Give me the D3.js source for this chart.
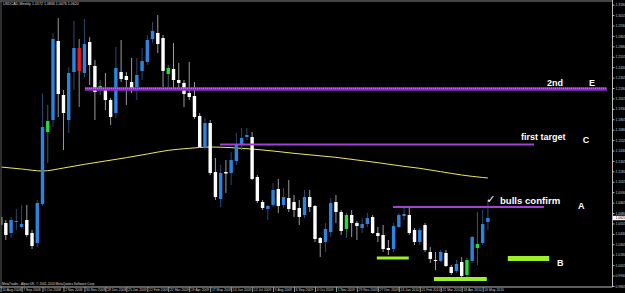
<!DOCTYPE html>
<meta charset="utf-8">
<html>
<head>
  <title>USDCAD Weekly</title>
  <style>
    body { margin: 0; background: #000; overflow: hidden; }
    svg { display: block; }
    text { font-family: "Liberation Sans", Arial, sans-serif; }
  </style>
</head>
<body>
  <script src="https://d3js.org/d3.v7.js"></script>
  <div id="chart"></div>
  <script>
    // weekly bars, 10 Aug 2008 .. 23 May 2010
    var open = [1.0632,1.0560,1.0440,1.0572,1.0512,1.0596,1.0440,1.0320,1.0788,1.1784,
      1.1796,1.2744,1.2096,1.1796,1.2372,1.2660,1.2360,1.2732,1.2444,1.2156,
      1.2180,1.2036,1.1880,1.2372,1.2324,1.2252,1.2192,1.2384,1.2492,1.2768,
      1.2840,1.2780,1.2348,1.2408,1.2276,1.2240,1.2120,1.2084,1.1844,1.1460,
      1.1760,1.1172,1.0848,1.1172,1.1160,1.1304,1.1496,1.1592,1.1592,1.1112,
      1.0812,1.0728,1.0776,1.0968,1.0776,1.0860,1.0812,1.0740,1.0656,1.0872,
      1.0764,1.0380,1.0332,1.0452,1.0812,1.0692,1.0488,1.0656,1.0560,1.0500,
      1.0548,1.0632,1.0440,1.0416,1.0260,1.0248,1.0512,1.0644,1.0656,1.0476,
      1.0332,1.0536,1.0212,1.0116,1.0104,1.0200,1.0032,0.9984,1.0092,0.9936,
      1.0104,1.0260,1.0320,1.0572];
    var high = [1.0668,1.0596,1.0632,1.0728,1.0776,1.0776,1.0476,1.0836,1.2120,1.1976,
      1.2840,1.3020,1.2156,1.2432,1.2984,1.2768,1.3008,1.2792,1.2516,1.2276,
      1.2360,1.2060,1.2672,1.2756,1.2372,1.2540,1.2540,1.2660,1.2816,1.2972,
      1.3056,1.2816,1.2456,1.2720,1.2480,1.2276,1.2492,1.2252,1.1880,1.1820,
      1.1796,1.1340,1.1256,1.1316,1.1412,1.1640,1.1700,1.1700,1.1652,1.1136,
      1.0836,1.0776,1.1040,1.1088,1.0980,1.1076,1.0896,1.0836,1.0956,1.0956,
      1.0776,1.0392,1.0560,1.0860,1.0896,1.0716,1.0680,1.0716,1.0584,1.0620,
      1.0680,1.0656,1.0512,1.0536,1.0356,1.0560,1.0680,1.0752,1.0752,1.0500,
      1.0500,1.0560,1.0272,1.0212,1.0236,1.0236,1.0056,1.0116,1.0152,1.0140,
      1.0404,1.0692,1.0716,1.0836];
    var low = [1.0500,1.0356,1.0380,1.0476,1.0500,1.0392,1.0248,1.0272,1.0764,1.1280,
      1.1712,1.1832,1.1436,1.1640,1.2156,1.1952,1.2312,1.2216,1.1796,1.2096,
      1.1916,1.1736,1.1820,1.2252,1.1976,1.2120,1.2036,1.2276,1.2456,1.2720,
      1.2600,1.2192,1.2192,1.2180,1.2180,1.1952,1.2036,1.1808,1.1460,1.1436,
      1.1136,1.0836,1.0752,1.0920,1.1016,1.1256,1.1436,1.1556,1.1076,1.0800,
      1.0716,1.0596,1.0752,1.0680,1.0740,1.0692,1.0632,1.0536,1.0620,1.0692,
      1.0332,1.0152,1.0212,1.0392,1.0560,1.0416,1.0380,1.0392,1.0356,1.0440,
      1.0512,1.0428,1.0332,1.0212,1.0176,1.0212,1.0500,1.0596,1.0416,1.0296,
      1.0296,1.0212,1.0080,0.9996,1.0092,1.0032,0.9936,0.9960,0.9912,0.9912,
      1.0080,1.0056,1.0296,1.0476];
    var close = [1.0536,1.0416,1.0596,1.0584,1.0548,1.0416,1.0284,1.0800,1.1712,1.1652,
      1.2768,1.2108,1.1880,1.2360,1.2660,1.2384,1.2708,1.2456,1.2132,1.2204,
      1.2036,1.1832,1.2420,1.2288,1.2276,1.2180,1.2336,1.2504,1.2756,1.2864,
      1.2708,1.2384,1.2420,1.2276,1.2240,1.2108,1.2072,1.1832,1.1472,1.1760,
      1.1160,1.0872,1.1160,1.1154,1.1316,1.1496,1.1580,1.1616,1.1088,1.0824,
      1.0740,1.0764,1.0956,1.0764,1.0872,1.0728,1.0716,1.0632,1.0872,1.0752,
      1.0368,1.0320,1.0488,1.0800,1.0692,1.0464,1.0656,1.0560,1.0524,1.0548,
      1.0620,1.0440,1.0404,1.0248,1.0236,1.0524,1.0656,1.0668,1.0440,1.0332,
      1.0476,1.0236,1.0128,1.0104,1.0212,1.0044,0.9960,1.0068,0.9924,1.0116,
      1.0392,1.0308,1.0548,1.0620];

    // bars painted by the indicator
    var greenBars = [9, 19, 32, 66, 89, 91];
    var redBars = [15];

    // moving average, read at every 4th bar
    var maIdx = [0,4,8,12,16,20,24,28,32,36,40,44,48,52,56,60,64,68,72,76,80,84,88,92,93];
    var maVal = [1.1232,1.1208,1.1184,1.1220,1.1264,1.1304,1.1344,1.1388,1.1432,1.1456,1.1472,1.1464,
      1.1448,1.1424,1.1396,1.1372,1.1348,1.1316,1.1284,1.1248,1.1216,1.1176,1.1136,1.1106,1.1100];

    var dateLabels = ["10 Aug 2008","7 Sep 2008","5 Oct 2008","2 Nov 2008","30 Nov 2008","28 Dec 2008",
      "25 Jan 2009","22 Feb 2009","22 Mar 2009","19 Apr 2009","17 May 2009","14 Jun 2009","12 Jul 2009",
      "9 Aug 2009","6 Sep 2009","4 Oct 2009","1 Nov 2009","29 Nov 2009","27 Dec 2009","24 Jan 2010",
      "21 Feb 2010","21 Mar 2010","18 Apr 2010","16 May 2010"];
    var dateIdx = [0,4,8,12,16,20,24,28,32,36,40,44,48,52,56,60,64,68,72,76,80,84,88,92];

    var priceTicks = [1.3180,1.3055,1.2930,1.2805,1.2680,1.2555,1.2430,1.2305,1.2180,1.2055,
      1.1930,1.1805,1.1680,1.1555,1.1430,1.1305,1.1180,1.1055,1.0930,1.0805,
      1.0680,1.0555,1.0430,1.0305,1.0180,1.0055,0.9930,0.9805];

    // trend lines (purple)
    var lineNames = ["E", "C", "A"];
    var linePrice = [1.2168, 1.1502, 1.0752];
    var lineFrom = [16.1, 41.9, 74.9];
    var lineTo = [115.7, 101.8, 103.7];

    // green support zones
    var zonePrice = [1.0140, 0.9888, 1.0134];
    var zoneFrom = [71.8, 82.7, 96.8];
    var zoneTo = [77.9, 92.8, 104.7];

    // text labels
    var noteText = ["2nd", "E", "first target", "C", "\u2713", "bulls confirm", "A", "B"];
    var noteIdx = [104.3, 112.3, 99.3, 111.1, 92.7, 95.3, 110.2, 106.2];
    var notePrice = [1.2204, 1.2204, 1.1556, 1.1520, 1.0800, 1.0788, 1.0728, 1.0044];

    var W = 625, H = 293;
    var plotRight = 612.5, plotBottom = 287;

    var svg = d3.select("#chart").append("svg")
      .attr("width", W).attr("height", H)
      .style("background", "#000");

    var x = d3.scaleLinear().domain([0, 93]).range([0.6, 487.9]);
    var y = d3.scaleLinear().domain([0.9720, 1.3236]).range([293, 0]);

    svg.append("clipPath").attr("id", "plot")
      .append("rect").attr("x", 1.5).attr("y", 1.5)
      .attr("width", plotRight - 1.5).attr("height", plotBottom - 1.5);

    var plot = svg.append("g").attr("clip-path", "url(#plot)");

    // moving average
    var ma = maIdx.map(function (d, i) { return { i: d, v: maVal[i] }; });
    plot.append("path")
      .datum(ma)
      .attr("fill", "none")
      .attr("stroke", "#eaea5c")
      .attr("stroke-width", 1)
      .attr("d", d3.line()
        .x(function (d) { return x(d.i); })
        .y(function (d) { return y(d.v); })
        .curve(d3.curveMonotoneX));

    // candles
    var bars = open.map(function (o, i) {
      var kind = close[i] >= o ? "up" : "down";
      if (greenBars.indexOf(i) >= 0) kind = "green";
      if (redBars.indexOf(i) >= 0) kind = "red";
      return { i: i, o: o, h: high[i], l: low[i], c: close[i], kind: kind };
    });
    var bodyColor = { up: "#2b85e0", down: "#ffffff", green: "#22dd33", red: "#e01f2a" };
    var wickColor = { up: "#2c4770", down: "#9a9a9a", green: "#3b5a6a", red: "#8a8a8a" };
    var bw = 3.4;

    plot.selectAll(".wick")
      .data(bars)
      .enter()
      .append("line")
      .attr("x1", function (d) { return x(d.i); })
      .attr("x2", function (d) { return x(d.i); })
      .attr("y1", function (d) { return y(d.h); })
      .attr("y2", function (d) { return y(d.l); })
      .attr("stroke", function (d) { return wickColor[d.kind]; })
      .attr("stroke-width", 1);

    plot.selectAll(".body")
      .data(bars)
      .enter()
      .append("rect")
      .attr("x", function (d) { return x(d.i) - bw / 2; })
      .attr("y", function (d) { return y(Math.max(d.o, d.c)); })
      .attr("width", bw)
      .attr("height", function (d) { return Math.max(1, Math.abs(y(d.o) - y(d.c))); })
      .attr("fill", function (d) { return bodyColor[d.kind]; });

    // purple lines
    lineNames.forEach(function (name, k) {
      var x1 = x(lineFrom[k]), x2 = x(lineTo[k]), yy = y(linePrice[k]);
      if (name == "E") {
        plot.append("line").attr("x1", x1).attr("x2", x2).attr("y1", yy).attr("y2", yy)
          .attr("stroke", "#8e2ec6").attr("stroke-width", 3.5);
        plot.append("line").attr("x1", x1).attr("x2", x2).attr("y1", yy - 0.8).attr("y2", yy - 0.8)
          .attr("stroke", "#c690ee").attr("stroke-width", 1).attr("stroke-dasharray", "1,1");
      } else {
        plot.append("line").attr("x1", x1).attr("x2", x2).attr("y1", yy).attr("y2", yy)
          .attr("stroke", "#a340d8").attr("stroke-width", 2);
      }
    });

    // green zones
    var zoneWidth = [3, 4, 5];
    zonePrice.forEach(function (p, k) {
      plot.append("line")
        .attr("x1", x(zoneFrom[k])).attr("x2", x(zoneTo[k]))
        .attr("y1", y(p)).attr("y2", y(p))
        .attr("stroke", "#9cf02a").attr("stroke-width", zoneWidth[k]);
    });

    // text notes
    noteText.forEach(function (t, k) {
      var tick = t == "\u2713";
      plot.append("text")
        .attr("x", x(noteIdx[k])).attr("y", y(notePrice[k]))
        .attr("fill", "#fff")
        .attr("font-size", tick ? "11px" : (t == "bulls confirm" ? "9.6px" : "9px"))
        .attr("font-weight", "bold")
        .style("font-family", tick ? "'DejaVu Sans', sans-serif" : null)
        .text(t);
    });

    // frame
    svg.append("line").attr("x1", 0).attr("x2", plotRight).attr("y1", 1).attr("y2", 1)
      .attr("stroke", "#5a5a5a").attr("stroke-width", 1.5);
    svg.append("line").attr("x1", 1).attr("x2", 1).attr("y1", 1).attr("y2", plotBottom)
      .attr("stroke", "#5a5a5a").attr("stroke-width", 1);

    // price axis
    var yAxis = svg.append("g")
      .attr("transform", "translate(" + plotRight + ",0)")
      .call(d3.axisRight(y).tickValues(priceTicks).tickFormat(d3.format(".4f")).tickSize(2).tickSizeOuter(0));
    yAxis.select(".domain").attr("stroke", "#bbb").attr("d", "M0,0V" + plotBottom);
    yAxis.selectAll(".tick line").attr("stroke", "#bbb");
    yAxis.selectAll(".tick text").attr("fill", "#ccc").attr("font-size", "3.4px").attr("x", 3)
      .style("font-family", "'Liberation Sans', sans-serif");

    // current price marker
    var last = close[close.length - 1];
    svg.append("rect").attr("x", plotRight + 0.5).attr("y", y(last) - 2.2)
      .attr("width", 13).attr("height", 4.4).attr("fill", "#fff");
    svg.append("text").attr("x", plotRight + 3).attr("y", y(last) + 1.2)
      .attr("fill", "#000").attr("font-size", "3.4px").text(d3.format(".4f")(last));

    // time axis
    var xAxis = svg.append("g")
      .attr("transform", "translate(0," + plotBottom + ")")
      .call(d3.axisBottom(x).tickValues(dateIdx)
        .tickFormat(function (d, i) { return dateLabels[i]; })
        .tickSize(5).tickSizeOuter(0));
    xAxis.select(".domain").attr("stroke", "#bbb").attr("d", "M0,0H" + plotRight);
    xAxis.selectAll(".tick line").attr("stroke", "#999");
    xAxis.selectAll(".tick text").attr("fill", "#ccc").attr("font-size", "3.4px")
      .attr("text-anchor", "start").attr("x", 1.2).attr("y", 1.2).attr("dy", "0.71em")
      .style("font-family", "'Liberation Sans', sans-serif");

    // header and copyright
    svg.append("text").attr("x", 3).attr("y", 5).attr("fill", "#ddd").attr("font-size", "3.6px")
      .text("USDCAD,Weekly  " + [open[93], high[93], low[93], close[93]].map(d3.format(".4f")).join(" "));
    svg.append("text").attr("x", 2).attr("y", 284.5).attr("fill", "#ddd").attr("font-size", "3.2px")
      .text("MetaTrader - Alpari UK, \u00a9 2001-2010 MetaQuotes Software Corp.");
  </script>
</body>
</html>
